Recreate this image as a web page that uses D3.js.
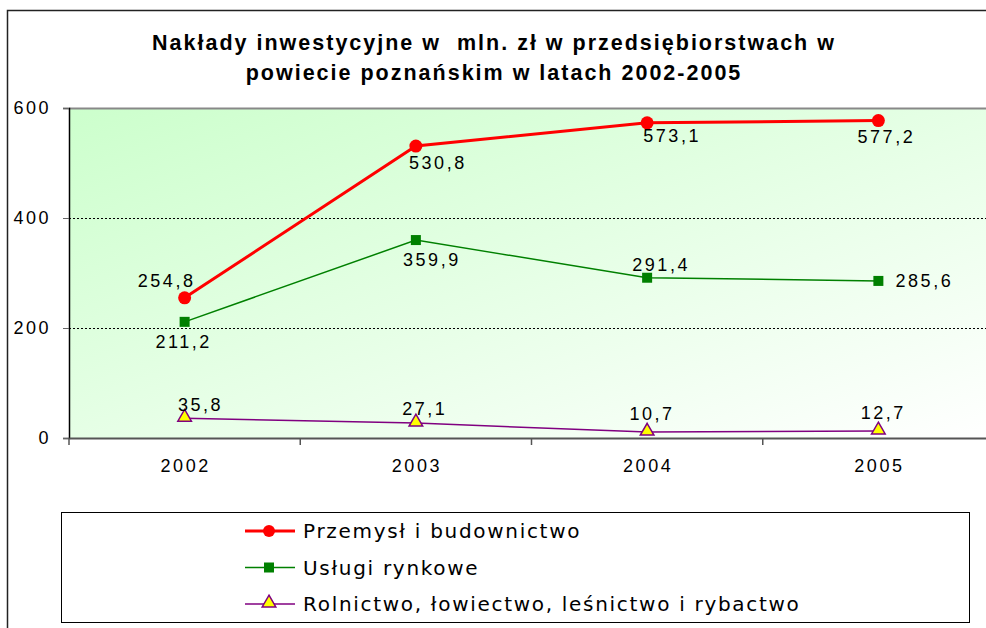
<!DOCTYPE html>
<html>
<head>
<meta charset="utf-8">
<script src="https://cdn.jsdelivr.net/npm/d3@7"></script>
<style>
  body { margin: 0; background: #fff; }
  text { font-family: Arial, "Liberation Sans", sans-serif; }
</style>
</head>
<body>
<div id="chart"></div>
<script>
const width = 986, height = 628

// data
const years = ["2002", "2003", "2004", "2005"]
const przemysl = [254.8, 530.8, 573.1, 577.2]
const uslugi = [211.2, 359.9, 291.4, 285.6]
const rolnictwo = [35.8, 27.1, 10.7, 12.7]
const seriesNames = ["Przemysł i budownictwo", "Usługi rynkowe", "Rolnictwo, łowiectwo, leśnictwo i rybactwo"]
const yTicks = [0, 200, 400, 600]

const plot = { left: 69, top: 108, right: 994, bottom: 438 }

let svg = d3.select("#chart").append("svg")
  .attr("width", width)
  .attr("height", height)

let defs = svg.append("defs")
let grad = defs.append("linearGradient")
  .attr("id", "bg")
  .attr("x1", "0%").attr("y1", "0%")
  .attr("x2", "100%").attr("y2", "100%")
grad.append("stop").attr("offset", "0%").attr("stop-color", "#ccffcc")
grad.append("stop").attr("offset", "100%").attr("stop-color", "#ffffff")

// outer frame
svg.append("path")
  .attr("d", `M7.5,${height} V10.5 H${width}`)
  .attr("fill", "none")
  .attr("stroke", "#222")
  .attr("stroke-width", 1.5)

// title
const titleLines = ["Nakłady inwestycyjne w  mln. zł w przedsiębiorstwach w", "powiecie poznańskim w latach 2002-2005"]
svg.append("g").selectAll("text")
  .data(titleLines)
  .enter().append("text")
  .attr("x", 494).attr("y", (d, i) => 50 + i * 30)
  .attr("text-anchor", "middle")
  .style("font-size", "21.5px").style("font-weight", "bold")
  .style("letter-spacing", "2px").style("white-space", "pre")
  .text(d => d)

let x = d3.scaleBand()
  .domain(years)
  .range([plot.left, plot.right])

let y = d3.scaleLinear()
  .domain([0, 600])
  .range([plot.bottom, plot.top])

// plot area
svg.append("rect")
  .attr("x", plot.left).attr("y", plot.top)
  .attr("width", plot.right - plot.left)
  .attr("height", plot.bottom - plot.top)
  .attr("fill", "url(#bg)")

// gridlines
svg.append("g")
  .selectAll("line")
  .data(yTicks.filter(d => d > 0))
  .enter().append("line")
  .attr("x1", plot.left).attr("x2", plot.right)
  .attr("y1", d => Math.round(y(d)) + 0.5)
  .attr("y2", d => Math.round(y(d)) + 0.5)
  .attr("stroke", d => d == 600 ? "#888" : "#000")
  .attr("stroke-width", d => d == 600 ? 2 : 1)
  .attr("stroke-dasharray", d => d == 600 ? null : "2,2")

// y axis
let yAxis = svg.append("g")
  .attr("transform", `translate(${plot.left},0)`)
  .call(d3.axisLeft(y).tickValues(yTicks).tickSize(6).tickPadding(12))
yAxis.select(".domain").attr("stroke", "#000").attr("stroke-width", 1.5)
yAxis.selectAll(".tick line").attr("stroke", "#666")
yAxis.selectAll("text")
  .style("font-size", "18px").style("letter-spacing", "2.5px")
  .attr("fill", "#000")

// x axis
let xAxis = svg.append("g")
  .attr("transform", `translate(0,${plot.bottom})`)
  .call(d3.axisBottom(x).tickSize(0).tickPadding(21))
xAxis.select(".domain").attr("stroke", "#555").attr("stroke-width", 2)
xAxis.selectAll("text")
  .style("font-size", "18px").style("letter-spacing", "2.5px")
  .attr("dx", "1px")
  .attr("fill", "#000")
xAxis.selectAll(".bound")
  .data(years)
  .enter().append("line")
  .attr("x1", d => x(d)).attr("x2", d => x(d))
  .attr("y1", 0).attr("y2", 7)
  .attr("stroke", "#555").attr("stroke-width", 1.5)

const cx = d => x(d) + x.bandwidth() / 2

function drawLine(values, color, w) {
  let line = d3.line()
    .x((d, i) => cx(years[i]))
    .y(d => y(d))
  svg.append("path")
    .datum(values)
    .attr("d", line)
    .attr("fill", "none")
    .attr("stroke", color)
    .attr("stroke-width", w)
}

drawLine(rolnictwo, "#800080", 1.5)
drawLine(uslugi, "#008000", 1.5)
drawLine(przemysl, "#ff0000", 3)

const tri = d3.symbol().type(d3.symbolTriangle).size(80)

// markers
svg.append("g").selectAll("path")
  .data(rolnictwo)
  .enter().append("path")
  .attr("d", tri)
  .attr("transform", (d, i) => `translate(${cx(years[i])},${y(d) - 1})`)
  .attr("fill", "#ffff00")
  .attr("stroke", "#800080")
  .attr("stroke-width", 1.5)

svg.append("g").selectAll("rect")
  .data(uslugi)
  .enter().append("rect")
  .attr("x", (d, i) => cx(years[i]) - 5)
  .attr("y", d => y(d) - 5)
  .attr("width", 10).attr("height", 10)
  .attr("fill", "#008000")

svg.append("g").selectAll("circle")
  .data(przemysl)
  .enter().append("circle")
  .attr("cx", (d, i) => cx(years[i]))
  .attr("cy", d => y(d))
  .attr("r", 6.5)
  .attr("fill", "#ff0000")

// data labels: offsets from the point
const fmt = v => String(v).replace(".", ",")
const labelOffsets = [
  [[-18, -11], [22, 23], [25, 19], [8, 22]],
  [[-1, 26], [16, 26], [14, -7], [46, 6]],
  [[16, -7], [9, -8], [5, -12], [5, -12]]
]
const allSeries = [przemysl, uslugi, rolnictwo]
allSeries.forEach((vals, s) => {
  svg.append("g").selectAll("text")
    .data(vals)
    .enter().append("text")
    .attr("x", (d, i) => cx(years[i]) + labelOffsets[s][i][0])
    .attr("y", (d, i) => y(d) + labelOffsets[s][i][1])
    .attr("text-anchor", "middle")
    .style("font-size", "18px").style("letter-spacing", "2.5px")
    .text(d => fmt(d))
})

// legend
let legend = svg.append("g")
legend.append("rect")
  .attr("x", 61.5).attr("y", 512.5)
  .attr("width", 908).attr("height", 110)
  .attr("fill", "#fff")
  .attr("stroke", "#000").attr("stroke-width", 1)

const legendColors = ["#ff0000", "#008000", "#800080"]
const legendWidths = [3, 1.5, 1.5]
const legendY = d3.scalePoint().domain(seriesNames).range([531, 604])

seriesNames.forEach((name, i) => {
  let ly = legendY(name)
  legend.append("line")
    .attr("x1", 245).attr("x2", 295)
    .attr("y1", ly).attr("y2", ly)
    .attr("stroke", legendColors[i]).attr("stroke-width", legendWidths[i])
  if (i == 0) {
    legend.append("circle").attr("cx", 269).attr("cy", ly).attr("r", 6).attr("fill", "#ff0000")
  } else if (i == 1) {
    legend.append("rect").attr("x", 264).attr("y", ly - 5).attr("width", 10).attr("height", 10).attr("fill", "#008000")
  } else {
    legend.append("path").attr("d", tri)
      .attr("transform", `translate(269,${ly - 1})`)
      .attr("fill", "#ffff00").attr("stroke", "#800080").attr("stroke-width", 1.5)
  }
  legend.append("text")
    .attr("x", 303).attr("y", ly + 7)
    .style("font-family", "'DejaVu Sans', Verdana, sans-serif")
    .style("font-size", "20px").style("letter-spacing", "1.7px")
    .text(name)
})
</script>
</body>
</html>
